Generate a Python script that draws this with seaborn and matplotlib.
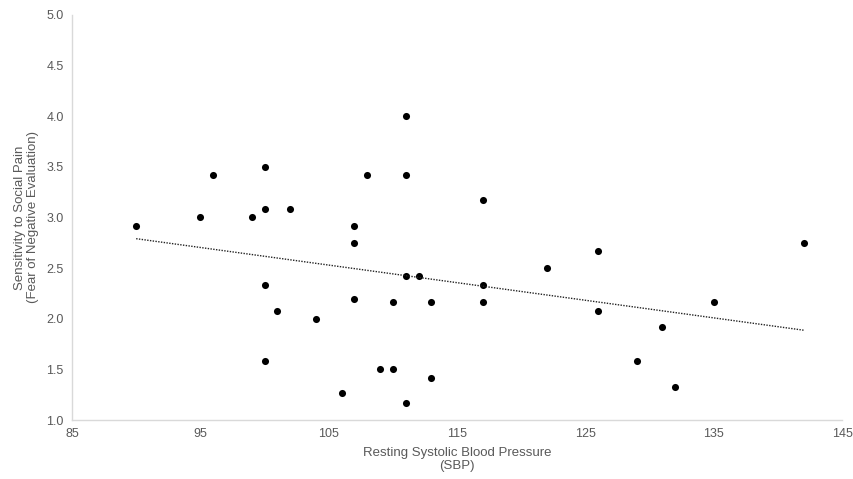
import matplotlib
matplotlib.use("Agg")
import matplotlib.pyplot as plt
import seaborn as sns
import pandas as pd

sbp = [90, 95, 96, 99, 100, 100, 102, 100, 101, 100, 104, 106, 107, 107, 107,
       108, 109, 110, 110, 111, 111, 111, 112, 111, 113, 113, 117, 117, 117,
       122, 126, 126, 129, 131, 132, 135, 142]
fne = [2.92, 3.0, 3.42, 3.0, 3.5, 3.08, 3.08, 2.33, 2.08, 1.58, 2.0, 1.27, 2.92,
       2.75, 2.2, 3.42, 1.5, 1.5, 2.17, 4.0, 3.42, 2.42, 2.42, 1.17, 2.17, 1.42,
       3.17, 2.33, 2.17, 2.5, 2.67, 2.08, 1.58, 1.92, 1.33, 2.17, 2.75]

df = pd.DataFrame({"SBP": sbp, "FNE": fne})

sns.set_style("white")
plt.rcParams["font.family"] = ["Liberation Sans", "DejaVu Sans"]

fig = plt.figure(figsize=(8.54, 4.79), dpi=100)
ax = fig.add_axes([0.0843, 0.123, 0.9017, 0.846])

sns.regplot(
    data=df, x="SBP", y="FNE", ax=ax, ci=None,
    scatter_kws={"s": 26, "color": "black", "linewidths": 0, "alpha": 1},
    line_kws={"color": "#222222", "linestyle": (0, (1, 1)), "linewidth": 1.0},
)

ax.set_xlim(85, 145)
ax.set_ylim(1.0, 5.0)
ax.set_xticks(range(85, 146, 10))
ax.set_yticks([1.0, 1.5, 2.0, 2.5, 3.0, 3.5, 4.0, 4.5, 5.0])
ax.set_yticklabels([f"{v:.1f}" for v in ax.get_yticks()])

gray = "#595959"
ax.tick_params(colors=gray, labelsize=9, length=0, pad=6)
ax.set_xlabel("Resting Systolic Blood Pressure\n(SBP)", color=gray, fontsize=9.5,
              labelpad=5, linespacing=1.1)
ax.set_ylabel("Sensitivity to Social Pain\n(Fear of Negative Evaluation)", color=gray,
              fontsize=9.5, labelpad=5, linespacing=1.1)

for side in ["top", "right"]:
    ax.spines[side].set_visible(False)
for side in ["left", "bottom"]:
    ax.spines[side].set_color("#d9d9d9")
    ax.spines[side].set_linewidth(1.0)

fig.savefig("out.png", dpi=100)
